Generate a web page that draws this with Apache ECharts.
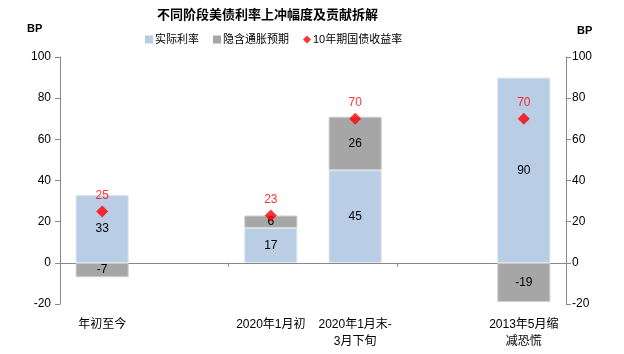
<!DOCTYPE html>
<html>
<head>
<meta charset="utf-8">
<script src="https://cdn.jsdelivr.net/npm/echarts@6/dist/echarts.min.js"></script>
<style>
  html, body { margin: 0; padding: 0; background: #fff; }
  #chart { width: 624px; height: 354px; }
</style>
</head>
<body>
<div id="chart"></div>
<script>
// 区间
var categories = ['年初至今', '', '2020年1月初', '2020年1月末-\n3月下旬', '', '2013年5月缩\n减恐慌']
// 实际利率 / 隐含通胀预期 / 10年期国债收益率 (BP)
var realRate = [33, null, 17, 45, null, 90]
var inflation = [-7, null, 6, 26, null, -19]
var yield10y = [25, null, 23, 70, null, 70]

var font = '"Liberation Sans", Arial, "Noto Sans CJK SC", sans-serif'

var chart = echarts.init(document.getElementById('chart'))
chart.setOption({
  animation: false,
  textStyle: { fontFamily: font },
  title: {
    text: '不同阶段美债利率上冲幅度及贡献拆解',
    left: 152,
    top: 4,
    textStyle: { fontSize: 13, fontWeight: 'bold', color: '#000', fontFamily: font }
  },
  legend: {
    left: 140,
    top: 29,
    itemGap: 14,
    itemWidth: 8,
    itemHeight: 8,
    itemStyle: { borderWidth: 0 },
    textStyle: { fontSize: 11, color: '#000', padding: [0, 0, 0, -3] },
    data: [
      { name: '实际利率', icon: 'rect' },
      { name: '隐含通胀预期', icon: 'rect' },
      { name: '10年期国债收益率', icon: 'diamond' }
    ]
  },
  graphic: [
    { type: 'text', left: 27, top: 23, style: { text: 'BP', font: 'bold 11px ' + font, fill: '#000' } },
    { type: 'text', left: 577, top: 25, style: { text: 'BP', font: 'bold 11px ' + font, fill: '#000' } }
  ],
  grid: { left: 60, right: 58, top: 57, bottom: 50 },
  xAxis: [
    {
      type: 'category',
      data: categories,
      position: 'bottom',
      axisLine: { show: false },
      axisTick: { show: false },
      axisLabel: { fontSize: 12, color: '#000', margin: 12, lineHeight: 17, interval: 0 }
    },
    {
      type: 'category',
      data: categories,
      position: 'bottom',
      axisLine: { onZero: true, lineStyle: { color: '#888' } },
      axisTick: { show: true, length: 4, inside: false, lineStyle: { color: '#888' } },
      axisLabel: { show: false }
    }
  ],
  yAxis: [
    {
      type: 'value',
      min: -20,
      max: 100,
      interval: 20,
      axisLine: { show: true, lineStyle: { color: '#888' } },
      axisTick: { show: true, length: 5, lineStyle: { color: '#888' } },
      axisLabel: { fontSize: 12, color: '#000', margin: 9 },
      splitLine: { show: false }
    },
    {
      type: 'value',
      min: -20,
      max: 100,
      interval: 20,
      position: 'right',
      axisLine: { show: true, lineStyle: { color: '#888' } },
      axisTick: { show: true, length: 5, lineStyle: { color: '#888' } },
      axisLabel: { fontSize: 12, color: '#000', margin: 6 },
      splitLine: { show: false }
    }
  ],
  series: [
    {
      name: '实际利率',
      type: 'bar',
      stack: 'total',
      barWidth: '63%',
      data: realRate,
      itemStyle: { color: '#B9CDE5', borderColor: '#dde6f2', borderWidth: 1 },
      label: { show: true, position: 'inside', fontSize: 12, color: '#000' }
    },
    {
      name: '隐含通胀预期',
      type: 'bar',
      stack: 'total',
      barWidth: '63%',
      data: inflation,
      itemStyle: { color: '#A6A6A6', borderColor: '#d0d0d0', borderWidth: 1 },
      label: { show: true, position: 'inside', fontSize: 12, color: '#000' }
    },
    {
      name: '10年期国债收益率',
      type: 'scatter',
      symbol: 'diamond',
      symbolSize: 12,
      data: yield10y,
      z: 5,
      itemStyle: { color: '#FF0000' },
      label: { show: true, position: 'top', distance: 4, fontSize: 12, color: '#FF0000' }
    }
  ]
})
</script>
</body>
</html>
